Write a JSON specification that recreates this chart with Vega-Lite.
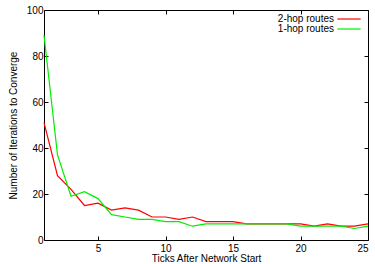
{
  "$schema": "https://vega.github.io/schema/vega-lite/v6.json",
  "width": 324,
  "height": 230,
  "autosize": {"type": "none"},
  "padding": {"left": 44, "top": 10, "right": 7, "bottom": 24},
  "config": {
    "view": {"stroke": "#000", "strokeWidth": 1},
    "font": "Liberation Sans",
    "axis": {
      "grid": false,
      "domain": false,
      "tickColor": "#000",
      "tickSize": -4,
      "labelFont": "Liberation Sans",
      "labelFontSize": 10,
      "labelColor": "#000",
      "titleFont": "Liberation Sans",
      "titleFontSize": 10,
      "titleFontWeight": "normal",
      "titleColor": "#000"
    }
  },
  "data": {
    "values": [
      {"tick": 1, "iter": 51, "series": "2-hop routes"},
      {"tick": 2, "iter": 28, "series": "2-hop routes"},
      {"tick": 3, "iter": 22, "series": "2-hop routes"},
      {"tick": 4, "iter": 15, "series": "2-hop routes"},
      {"tick": 5, "iter": 16, "series": "2-hop routes"},
      {"tick": 6, "iter": 13, "series": "2-hop routes"},
      {"tick": 7, "iter": 14, "series": "2-hop routes"},
      {"tick": 8, "iter": 13, "series": "2-hop routes"},
      {"tick": 9, "iter": 10, "series": "2-hop routes"},
      {"tick": 10, "iter": 10, "series": "2-hop routes"},
      {"tick": 11, "iter": 9, "series": "2-hop routes"},
      {"tick": 12, "iter": 10, "series": "2-hop routes"},
      {"tick": 13, "iter": 8, "series": "2-hop routes"},
      {"tick": 14, "iter": 8, "series": "2-hop routes"},
      {"tick": 15, "iter": 8, "series": "2-hop routes"},
      {"tick": 16, "iter": 7, "series": "2-hop routes"},
      {"tick": 17, "iter": 7, "series": "2-hop routes"},
      {"tick": 18, "iter": 7, "series": "2-hop routes"},
      {"tick": 19, "iter": 7, "series": "2-hop routes"},
      {"tick": 20, "iter": 7, "series": "2-hop routes"},
      {"tick": 21, "iter": 6, "series": "2-hop routes"},
      {"tick": 22, "iter": 7, "series": "2-hop routes"},
      {"tick": 23, "iter": 6, "series": "2-hop routes"},
      {"tick": 24, "iter": 6, "series": "2-hop routes"},
      {"tick": 25, "iter": 7, "series": "2-hop routes"},
      {"tick": 1, "iter": 89, "series": "1-hop routes"},
      {"tick": 2, "iter": 37, "series": "1-hop routes"},
      {"tick": 3, "iter": 19, "series": "1-hop routes"},
      {"tick": 4, "iter": 21, "series": "1-hop routes"},
      {"tick": 5, "iter": 18, "series": "1-hop routes"},
      {"tick": 6, "iter": 11, "series": "1-hop routes"},
      {"tick": 7, "iter": 10, "series": "1-hop routes"},
      {"tick": 8, "iter": 9, "series": "1-hop routes"},
      {"tick": 9, "iter": 9, "series": "1-hop routes"},
      {"tick": 10, "iter": 8, "series": "1-hop routes"},
      {"tick": 11, "iter": 8, "series": "1-hop routes"},
      {"tick": 12, "iter": 6, "series": "1-hop routes"},
      {"tick": 13, "iter": 7, "series": "1-hop routes"},
      {"tick": 14, "iter": 7, "series": "1-hop routes"},
      {"tick": 15, "iter": 7, "series": "1-hop routes"},
      {"tick": 16, "iter": 7, "series": "1-hop routes"},
      {"tick": 17, "iter": 7, "series": "1-hop routes"},
      {"tick": 18, "iter": 7, "series": "1-hop routes"},
      {"tick": 19, "iter": 7, "series": "1-hop routes"},
      {"tick": 20, "iter": 6, "series": "1-hop routes"},
      {"tick": 21, "iter": 6, "series": "1-hop routes"},
      {"tick": 22, "iter": 6, "series": "1-hop routes"},
      {"tick": 23, "iter": 6, "series": "1-hop routes"},
      {"tick": 24, "iter": 5, "series": "1-hop routes"},
      {"tick": 25, "iter": 6, "series": "1-hop routes"}
    ]
  },
  "resolve": {"axis": {"x": "independent", "y": "independent"}},
  "layer": [
    {
      "mark": {"type": "line", "strokeWidth": 1.2},
      "encoding": {
        "x": {
          "field": "tick", "type": "quantitative",
          "scale": {"domain": [1, 25], "nice": false, "zero": false},
          "axis": {"orient": "bottom", "values": [5, 10, 15, 20, 25], "title": "Ticks After Network Start", "titlePadding": 0, "labelPadding": 7}
        },
        "y": {
          "field": "iter", "type": "quantitative",
          "scale": {"domain": [0, 100], "nice": false},
          "axis": {"orient": "left", "values": [0, 20, 40, 60, 80, 100], "title": "Number of Iterations to Converge", "titlePadding": 8, "labelPadding": 5}
        },
        "color": {
          "field": "series", "type": "nominal",
          "sort": ["2-hop routes", "1-hop routes"],
          "scale": {"domain": ["2-hop routes", "1-hop routes"], "range": ["#ff0000", "#00ee00"]},
          "legend": {
            "title": null,
            "orient": "none",
            "legendX": 300,
            "legendY": 4,
            "padding": 0,
            "symbolType": "M-3,0H3",
            "symbolSize": 60,
            "symbolStrokeWidth": 1.2,
            "symbolFillColor": "transparent",
            "labelAlign": "right",
            "labelOffset": -20,
            "labelFontSize": 10,
            "labelFont": "Liberation Sans",
            "labelColor": "#000",
            "rowPadding": -6
          }
        }
      }
    },
    {
      "mark": {"type": "line", "strokeOpacity": 0},
      "encoding": {
        "x": {"field": "tick", "type": "quantitative", "axis": {"orient": "top", "values": [5, 10, 15, 20, 25], "labels": false, "title": null}},
        "y": {"field": "iter", "type": "quantitative", "axis": {"orient": "right", "values": [0, 20, 40, 60, 80, 100], "labels": false, "title": null}},
        "detail": {"field": "series"}
      }
    }
  ]
}
